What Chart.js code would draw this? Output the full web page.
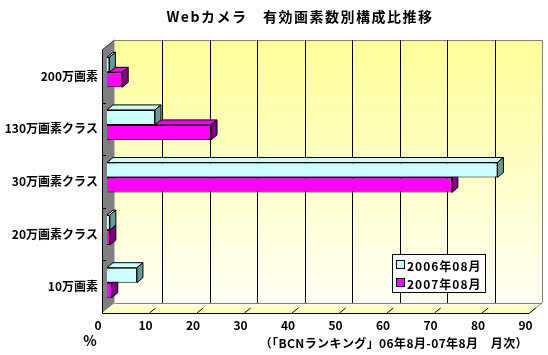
<!DOCTYPE html>
<html>
<head>
<meta charset="utf-8">
<script src="https://cdn.jsdelivr.net/npm/chart.js@4/dist/chart.umd.min.js"></script>
<style>
  body { margin: 0; background: #fff; }
  #wrap { width: 548px; height: 355px; }
</style>
</head>
<body>
<div id="wrap"><canvas id="chart" width="548" height="355"></canvas></div>
<script>
'use strict';

var categories = ['200万画素', '130万画素クラス', '30万画素クラス', '20万画素クラス', '10万画素'];
var seriesNames = ['2006年08月', '2007年08月'];
var values2006 = [0.5, 10.1, 82.2, 0.6, 6.3];
var values2007 = [3.2, 21.9, 72.6, 0.6, 1.0];
var xTicks = [0, 10, 20, 30, 40, 50, 60, 70, 80, 90];

var titleText = 'Webカメラ　有効画素数別構成比推移';
var sourceText = '（「BCNランキング」06年8月-07年8月　月次）';

var FONT = '"Noto Sans CJK JP", "Noto Sans", sans-serif';
var DEPTH_X = 12.5, DEPTH_Y = -10;   // wall depth
var BAR_DX = 5, BAR_DY = -4;         // bars sit a bit inside the box
var FACE_X = 6, FACE_Y = -5;         // bar thickness

var frontColors = ['#CCFFFF', '#FF00FF'];
var topColors = ['#CCFFFF', '#EE00EE'];
var sideColors = ['#669999', '#800080'];

// walls, floor and grid behind the bars
var boxPlugin = {
  id: 'box',
  beforeDraw: function (chart) {
    var ctx = chart.ctx, a = chart.chartArea;
    var xs = chart.scales.x, ys = chart.scales.y;
    var bl = a.left + DEPTH_X, bt = a.top + DEPTH_Y;
    var br = a.right + DEPTH_X, bb = a.bottom + DEPTH_Y;
    ctx.save();

    // back wall
    var g = ctx.createLinearGradient(0, bt, 0, bb);
    g.addColorStop(0, '#FFFF99');
    g.addColorStop(1, '#FFFFF4');
    ctx.fillStyle = g;
    ctx.fillRect(bl, bt, br - bl, bb - bt);
    ctx.strokeStyle = '#808080';
    ctx.lineWidth = 1;
    ctx.beginPath();
    ctx.moveTo(bl, bt + 0.5);
    ctx.lineTo(br + 0.5, bt + 0.5);
    ctx.lineTo(br + 0.5, bb);
    ctx.stroke();

    // back grid lines
    ctx.strokeStyle = '#000';
    xTicks.forEach(function (v) {
      if (v === 0 || v === 90) return;
      var px = Math.round(xs.getPixelForValue(v) + DEPTH_X) + 0.5;
      ctx.beginPath();
      ctx.moveTo(px, bt);
      ctx.lineTo(px, bb);
      ctx.stroke();
    });

    // floor
    var fg = ctx.createLinearGradient(0, bb, 0, a.bottom);
    fg.addColorStop(0, '#FFFFF0');
    fg.addColorStop(1, '#FFFFB0');
    ctx.fillStyle = fg;
    ctx.beginPath();
    ctx.moveTo(a.left, a.bottom);
    ctx.lineTo(bl, bb);
    ctx.lineTo(br, bb);
    ctx.lineTo(a.right, a.bottom);
    ctx.closePath();
    ctx.fill();
    ctx.strokeStyle = '#808080';
    ctx.beginPath();
    ctx.moveTo(bl, bb + 0.5);
    ctx.lineTo(br, bb + 0.5);
    ctx.moveTo(br, bb);
    ctx.lineTo(a.right, a.bottom);
    ctx.stroke();

    // floor tick marks
    ctx.strokeStyle = '#000';
    xTicks.forEach(function (v) {
      if (v === 0) return;
      var px = xs.getPixelForValue(v);
      ctx.beginPath();
      ctx.moveTo(px, a.bottom);
      ctx.lineTo(px + DEPTH_X * 0.5, a.bottom + DEPTH_Y * 0.5);
      ctx.stroke();
    });

    // left wall
    ctx.fillStyle = '#808080';
    ctx.beginPath();
    ctx.moveTo(a.left, a.top);
    ctx.lineTo(bl, bt);
    ctx.lineTo(bl, bb);
    ctx.lineTo(a.left, a.bottom);
    ctx.closePath();
    ctx.fill();
    ctx.strokeStyle = '#333';
    ctx.beginPath();
    ctx.moveTo(a.left, a.top);
    ctx.lineTo(bl, bt);
    ctx.stroke();

    // axis lines
    ctx.strokeStyle = '#000';
    ctx.beginPath();
    ctx.moveTo(a.left + 0.5, a.top);
    ctx.lineTo(a.left + 0.5, a.bottom + 0.5);
    ctx.lineTo(a.right, a.bottom + 0.5);
    ctx.stroke();

    // category ticks on the wall
    for (var i = 0; i < categories.length - 1; i++) {
      var py = Math.round((ys.getPixelForValue(i) + ys.getPixelForValue(i + 1)) / 2) + 0.5;
      ctx.beginPath();
      ctx.moveTo(a.left, py);
      ctx.lineTo(a.left + 4, py);
      ctx.stroke();
    }
    ctx.restore();
  },

  // top and side faces of each bar, then shift the fronts
  beforeDatasetsDraw: function (chart) {
    var ctx = chart.ctx;
    ctx.save();
    ctx.translate(BAR_DX, BAR_DY);
    ctx.lineWidth = 1;
    ctx.strokeStyle = '#000';
    for (var d = chart.data.datasets.length - 1; d >= 0; d--) {
      var meta = chart.getDatasetMeta(d);
      meta.data.forEach(function (bar) {
        var L = bar.base, R = bar.x;
        var T = bar.y - bar.height / 2, B = bar.y + bar.height / 2;
        ctx.fillStyle = topColors[d];
        ctx.beginPath();
        ctx.moveTo(L, T);
        ctx.lineTo(L + FACE_X, T + FACE_Y);
        ctx.lineTo(R + FACE_X, T + FACE_Y);
        ctx.lineTo(R, T);
        ctx.closePath();
        ctx.fill();
        ctx.stroke();
        ctx.fillStyle = sideColors[d];
        ctx.beginPath();
        ctx.moveTo(R, T);
        ctx.lineTo(R + FACE_X, T + FACE_Y);
        ctx.lineTo(R + FACE_X, B + FACE_Y);
        ctx.lineTo(R, B);
        ctx.closePath();
        ctx.fill();
        ctx.stroke();
      });
    }
  },
  afterDatasetsDraw: function (chart) {
    chart.ctx.restore();
  },

  // title, legend and notes
  afterDraw: function (chart) {
    var ctx = chart.ctx;
    ctx.save();
    ctx.fillStyle = '#000';
    ctx.textBaseline = 'middle';

    ctx.font = 'bold 14px ' + FONT;
    ctx.letterSpacing = '1.5px';
    ctx.textAlign = 'center';
    ctx.fillText(titleText, 300, 17);

    ctx.letterSpacing = '0px';
    ctx.fillText('%', 90, 341);

    ctx.font = 'bold 12px ' + FONT;
    ctx.letterSpacing = '0.4px';
    ctx.textAlign = 'right';
    ctx.fillText(sourceText, 528, 343);

    // legend
    ctx.fillStyle = '#fff';
    ctx.fillRect(392.5, 254.5, 93, 38);
    ctx.strokeStyle = '#000';
    ctx.lineWidth = 1;
    ctx.strokeRect(392.5, 254.5, 93, 38);
    ctx.textAlign = 'left';
    ctx.letterSpacing = '1px';
    chart.data.datasets.forEach(function (ds, i) {
      var cy = 265 + i * 18;
      ctx.fillStyle = ds.backgroundColor;
      ctx.fillRect(396.5, cy - 4.5, 8, 8);
      ctx.strokeRect(396.5, cy - 4.5, 8, 8);
      ctx.fillStyle = '#000';
      ctx.fillText(ds.label, 407, cy + 1);
    });
    ctx.restore();
  }
};

var ctx = document.getElementById('chart').getContext('2d');
var chart = new Chart(ctx, {
  type: 'bar',
  data: {
    labels: categories,
    datasets: [
      {
        label: seriesNames[0],
        data: values2006,
        backgroundColor: frontColors[0],
        borderColor: '#000',
        borderWidth: 1
      },
      {
        label: seriesNames[1],
        data: values2007,
        backgroundColor: frontColors[1],
        borderColor: '#000',
        borderWidth: 1
      }
    ]
  },
  options: {
    indexAxis: 'y',
    responsive: false,
    animation: false,
    devicePixelRatio: 1,
    categoryPercentage: 0.57,
    barPercentage: 1.0,
    clip: false,
    layout: { padding: { left: 0, top: 50, right: 18.5, bottom: 0 } },
    plugins: {
      legend: { display: false },
      title: { display: false },
      tooltip: { enabled: false }
    },
    scales: {
      x: {
        type: 'linear',
        min: 0,
        max: 90,
        afterBuildTicks: function (scale) {
          scale.ticks = xTicks.map(function (v) { return { value: v }; });
        },
        afterFit: function (scale) { scale.height = 42; },
        grid: { display: false, drawTicks: false },
        border: { display: false },
        ticks: {
          padding: 5,
          labelOffset: -4,
          color: '#000',
          font: { family: FONT, size: 12, weight: 'bold' }
        }
      },
      y: {
        type: 'category',
        afterFit: function (scale) { scale.width = 102; },
        grid: { display: false, drawTicks: false },
        border: { display: false },
        ticks: {
          padding: 4,
          color: '#000',
          font: { family: FONT, size: 12, weight: 'bold' }
        }
      }
    }
  },
  plugins: [boxPlugin]
});
</script>
</body>
</html>
